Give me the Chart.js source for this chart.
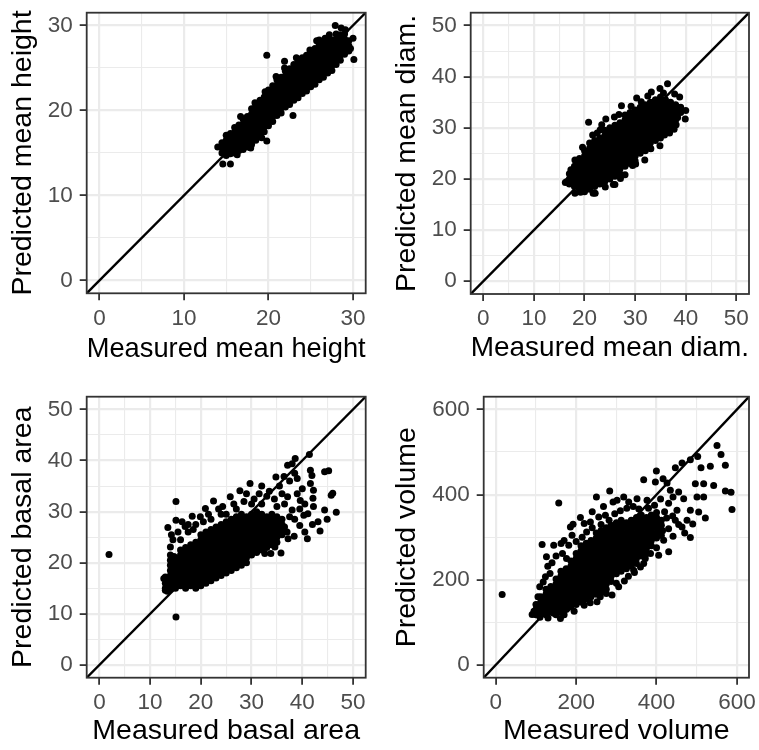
<!DOCTYPE html>
<html>
<head>
<meta charset="utf-8">
<script src="https://cdn.jsdelivr.net/npm/chart.js@4.4.1/dist/chart.umd.min.js"></script>
<style>
  body { margin: 0; background: #fff; }
  #sheet { position: relative; width: 759px; height: 750px; }
  #sheet canvas { position: absolute; }
</style>
</head>
<body>
<div id="sheet">
  <canvas id="pHeight" width="380" height="375" style="left:0;top:0"></canvas>
  <canvas id="pDiam" width="379" height="375" style="left:380px;top:0"></canvas>
  <canvas id="pBasal" width="380" height="375" style="left:0;top:375px"></canvas>
  <canvas id="pVolume" width="379" height="375" style="left:380px;top:375px"></canvas>
</div>
<script>
// ---- axis limits, ticks, titles ----
const heightLimits = [-1.5, 31.5];
const heightMajor = [0, 10, 20, 30];
const heightMinor = [5, 15, 25];
const diamLimits = [-2.5, 52.5];
const diamMajor = [0, 10, 20, 30, 40, 50];
const diamMinor = [5, 15, 25, 35, 45];
const basalLimits = [-2.5, 52.5];
const basalMajor = [0, 10, 20, 30, 40, 50];
const basalMinor = [5, 15, 25, 35, 45];
const volumeLimits = [-30, 630];
const volumeMajor = [0, 200, 400, 600];
const volumeMinor = [100, 300, 500];

const heightTitles = ['Measured mean height', 'Predicted mean height'];
const diamTitles = ['Measured mean diam.', 'Predicted mean diam.'];
const basalTitles = ['Measured basal area', 'Predicted basal area'];
const volumeTitles = ['Measured volume', 'Predicted volume'];

// ---- [measured, predicted] pairs ----
const heightPairs = [
  [14.5,15.0],[14.5,15.6],[14.5,16.2],
  [15.0,14.7],[15.0,15.3],[15.0,15.9],[15.0,16.5],[15.0,17.1],
  [15.5,14.9],[15.5,15.5],[15.5,16.1],[15.5,16.7],[15.5,17.3],
  [16.0,15.0],[16.0,15.6],[16.0,16.2],[16.0,16.8],[16.0,17.4],[16.0,18.0],
  [16.5,15.3],[16.5,15.9],[16.5,16.5],[16.5,17.1],[16.5,17.7],[16.5,18.3],
  [17.0,15.4],[17.0,16.0],[17.0,16.6],[17.0,17.2],[17.0,17.8],[17.0,18.4],[17.0,19.0],
  [17.5,15.7],[17.5,16.3],[17.5,16.9],[17.5,17.5],[17.5,18.1],[17.5,18.7],[17.5,19.3],
  [18.0,16.0],[18.0,16.6],[18.0,17.2],[18.0,17.8],[18.0,18.4],[18.0,19.0],[18.0,19.6],[18.0,20.2],
  [18.5,16.5],[18.5,17.1],[18.5,17.7],[18.5,18.3],[18.5,18.9],[18.5,19.5],[18.5,20.1],[18.5,20.6],
  [19.0,17.0],[19.0,17.6],[19.0,18.2],[19.0,18.8],[19.0,19.4],[19.0,20.0],[19.0,20.6],[19.0,21.2],
  [19.5,17.5],[19.5,18.1],[19.5,18.7],[19.5,19.3],[19.5,19.9],[19.5,20.5],[19.5,21.1],[19.5,21.6],
  [20.0,18.2],[20.0,18.8],[20.0,19.4],[20.0,20.0],[20.0,20.6],[20.0,21.2],[20.0,21.8],[20.0,22.4],
  [20.5,18.7],[20.5,19.3],[20.5,19.9],[20.5,20.5],[20.5,21.1],[20.5,21.7],[20.5,22.3],[20.5,22.9],
  [21.0,19.4],[21.0,20.0],[21.0,20.6],[21.0,21.2],[21.0,21.8],[21.0,22.4],[21.0,23.0],[21.0,23.6],
  [21.5,19.7],[21.5,20.3],[21.5,20.9],[21.5,21.5],[21.5,22.1],[21.5,22.7],[21.5,23.3],[21.5,23.9],
  [22.0,20.4],[22.0,21.0],[22.0,21.6],[22.0,22.2],[22.0,22.8],[22.0,23.4],[22.0,24.0],[22.0,24.6],
  [22.5,20.7],[22.5,21.3],[22.5,21.9],[22.5,22.5],[22.5,23.1],[22.5,23.7],[22.5,24.3],[22.5,24.9],
  [23.0,21.2],[23.0,21.8],[23.0,22.4],[23.0,23.0],[23.0,23.6],[23.0,24.2],[23.0,24.8],[23.0,25.4],
  [23.5,21.5],[23.5,22.1],[23.5,22.7],[23.5,23.3],[23.5,23.9],[23.5,24.5],[23.5,25.1],[23.5,25.7],
  [24.0,22.0],[24.0,22.6],[24.0,23.2],[24.0,23.8],[24.0,24.4],[24.0,25.0],[24.0,25.6],[24.0,26.2],
  [24.5,22.3],[24.5,22.9],[24.5,23.5],[24.5,24.1],[24.5,24.7],[24.5,25.3],[24.5,25.9],[24.5,26.5],
  [25.0,22.8],[25.0,23.4],[25.0,24.0],[25.0,24.6],[25.0,25.2],[25.0,25.8],[25.0,26.4],[25.0,27.0],
  [25.5,23.1],[25.5,23.7],[25.5,24.3],[25.5,24.9],[25.5,25.5],[25.5,26.1],[25.5,26.7],[25.5,27.3],
  [26.0,23.6],[26.0,24.2],[26.0,24.8],[26.0,25.4],[26.0,26.0],[26.0,26.6],[26.0,27.2],[26.0,27.8],
  [26.5,23.9],[26.5,24.5],[26.5,25.1],[26.5,25.7],[26.5,26.3],[26.5,26.9],[26.5,27.5],[26.5,28.1],
  [27.0,24.4],[27.0,25.0],[27.0,25.6],[27.0,26.2],[27.0,26.8],[27.0,27.4],[27.0,28.0],[27.0,28.5],
  [27.5,24.7],[27.5,25.3],[27.5,25.9],[27.5,26.5],[27.5,27.1],[27.5,27.7],[27.5,28.3],
  [28.0,25.4],[28.0,26.0],[28.0,26.6],[28.0,27.2],[28.0,27.8],[28.0,28.4],[28.0,29.0],
  [28.5,25.9],[28.5,26.5],[28.5,27.1],[28.5,27.7],[28.5,28.3],[28.5,28.9],
  [29.0,26.6],[29.0,27.2],[29.0,27.8],[29.0,28.4],[29.0,29.0],
  [29.5,27.0],[29.5,27.6],[29.5,28.2],
  [19.8,26.5],[21.9,25.8],[21.9,25.0],[23.3,26.2],[22.9,19.4],[19.8,16.4],[19.2,16.8],
  [14.6,13.7],[15.5,13.7],[14.0,15.7],[30.1,26.0],[30.0,28.5],[27.9,30.0],[29.1,29.5],
  [24.9,27.1],[25.7,28.2],[26.7,28.5],[20.9,24.0],[19.6,22.2],[16.7,19.3],[17.9,15.6],
  [16.3,14.8],[29.7,27.3],[28.6,29.7],[26.0,28.3],[18.4,20.9],[27.2,28.9],[29.1,27.5]
];

const diamPairs = [
  [17,19],[17,20],[17,21],
  [18,18.5],[18,19.5],[18,20.5],[18,21.5],[18,22.5],
  [19,18],[19,19],[19,20],[19,21],[19,22],[19,23],[19,24],
  [20,17.5],[20,18.5],[20,19.5],[20,20.5],[20,21.5],[20,22.5],[20,23.5],[20,24.5],[20,25.5],
  [21,18],[21,19],[21,20],[21,21],[21,22],[21,23],[21,24],[21,25],[21,26],[21,27],
  [22,18.5],[22,19.5],[22,20.5],[22,21.5],[22,22.5],[22,23.5],[22,24.5],[22,25.5],[22,26.5],[22,27.5],
  [23,19],[23,20],[23,21],[23,22],[23,23],[23,24],[23,25],[23,26],[23,27],[23,28],
  [24,19.5],[24,20.5],[24,21.5],[24,22.5],[24,23.5],[24,24.5],[24,25.5],[24,26.5],[24,27.5],[24,28.5],[24,29.5],
  [25,20],[25,21],[25,22],[25,23],[25,24],[25,25],[25,26],[25,27],[25,28],[25,29],[25,30],
  [26,20.5],[26,21.5],[26,22.5],[26,23.5],[26,24.5],[26,25.5],[26,26.5],[26,27.5],[26,28.5],[26,29.5],[26,30.5],
  [27,21],[27,22],[27,23],[27,24],[27,25],[27,26],[27,27],[27,28],[27,29],[27,30],[27,31],
  [28,22.5],[28,23.5],[28,24.5],[28,25.5],[28,26.5],[28,27.5],[28,28.5],[28,29.5],[28,30.5],[28,31.5],[28,32.5],
  [29,23],[29,24],[29,25],[29,26],[29,27],[29,28],[29,29],[29,30],[29,31],[29,32],[29,33],
  [30,23.5],[30,24.5],[30,25.5],[30,26.5],[30,27.5],[30,28.5],[30,29.5],[30,30.5],[30,31.5],[30,32.5],[30,33.5],
  [31,25],[31,26],[31,27],[31,28],[31,29],[31,30],[31,31],[31,32],[31,33],[31,34],
  [32,25.5],[32,26.5],[32,27.5],[32,28.5],[32,29.5],[32,30.5],[32,31.5],[32,32.5],[32,33.5],[32,34.5],
  [33,26],[33,27],[33,28],[33,29],[33,30],[33,31],[33,32],[33,33],[33,34],[33,35],
  [34,27.5],[34,28.5],[34,29.5],[34,30.5],[34,31.5],[34,32.5],[34,33.5],[34,34.5],[34,35.5],
  [35,28],[35,29],[35,30],[35,31],[35,32],[35,33],[35,34],[35,35],[35,36],
  [36,29.5],[36,30.5],[36,31.5],[36,32.5],[36,33.5],[36,34.5],[36,35.5],
  [37,30],[37,31],[37,32],[37,33],[37,34],[37,35],
  [38,31.5],[38,32.5],[38,33.5],[38,34.5],
  [39,33],[39,34],
  [36.4,38.6],[39.9,31.7],[34.9,26.5],[20.8,31.1],[24.2,31.7],[27.3,34.3],[30.3,35.8],
  [33.2,37.0],[34.9,37.7],[37.8,36.6],[38.8,36.0],[39.0,33.6],[37.7,29.7],[31.9,23.7],
  [28.0,20.8],[26.0,18.9],[22.1,17.2],[16.5,19.5],[18.1,23.7],[17.3,21.8],[18.1,17.2],
  [21.7,17.2],[25.7,18.9],[16.2,19.3],[17.5,21.4],[19.6,26.2],[21.6,28.6],[23.1,29.6],
  [25.9,32.1],[29.2,34.2],[35.6,36.8],[36.6,32.6],[38.4,32.0],[33.1,25.9],[30.1,22.9],
  [27.1,20.1],[24.1,18.4],[19.2,17.4],[38.1,30.6],[32.5,36.2],[31.2,35.1],[26.8,32.6],
  [23.4,30.6],[22.5,29.0],[24.6,21.0],[29.5,22.6],[35.8,28.6],[36.8,29.0],[40.0,33.4]
];

const basalPairs = [
  [13,15],[13,16],[13,17],
  [14,15.5],[14,16.5],[14,17.5],[14,18.5],[14,19.5],[14,20.5],[14,21.5],
  [15,15],[15,16],[15,17],[15,18],[15,19],[15,20],[15,21],
  [16,15.5],[16,16.5],[16,17.5],[16,18.5],[16,19.5],[16,20.5],[16,21.5],[16,22.5],
  [17,15],[17,16],[17,17],[17,18],[17,19],[17,20],[17,21],[17,22],[17,23],
  [18,15.5],[18,16.5],[18,17.5],[18,18.5],[18,19.5],[18,20.5],[18,21.5],[18,22.5],[18,23.5],
  [19,15],[19,16],[19,17],[19,18],[19,19],[19,20],[19,21],[19,22],[19,23],[19,24],
  [20,15.5],[20,16.5],[20,17.5],[20,18.5],[20,19.5],[20,20.5],[20,21.5],[20,22.5],[20,23.5],[20,24.5],[20,25.5],
  [21,16],[21,17],[21,18],[21,19],[21,20],[21,21],[21,22],[21,23],[21,24],[21,25],[21,26],
  [22,16.5],[22,17.5],[22,18.5],[22,19.5],[22,20.5],[22,21.5],[22,22.5],[22,23.5],[22,24.5],[22,25.5],[22,26.5],
  [23,17],[23,18],[23,19],[23,20],[23,21],[23,22],[23,23],[23,24],[23,25],[23,26],[23,27],
  [24,17.5],[24,18.5],[24,19.5],[24,20.5],[24,21.5],[24,22.5],[24,23.5],[24,24.5],[24,25.5],[24,26.5],[24,27.5],
  [25,18],[25,19],[25,20],[25,21],[25,22],[25,23],[25,24],[25,25],[25,26],[25,27],[25,28],
  [26,18.5],[26,19.5],[26,20.5],[26,21.5],[26,22.5],[26,23.5],[26,24.5],[26,25.5],[26,26.5],[26,27.5],[26,28.5],
  [27,19],[27,20],[27,21],[27,22],[27,23],[27,24],[27,25],[27,26],[27,27],[27,28],[27,29],
  [28,19.5],[28,20.5],[28,21.5],[28,22.5],[28,23.5],[28,24.5],[28,25.5],[28,26.5],[28,27.5],[28,28.5],[28,29.5],
  [29,20],[29,21],[29,22],[29,23],[29,24],[29,25],[29,26],[29,27],[29,28],[29,29],
  [30,21.5],[30,22.5],[30,23.5],[30,24.5],[30,25.5],[30,26.5],[30,27.5],[30,28.5],[30,29.5],
  [31,22],[31,23],[31,24],[31,25],[31,26],[31,27],[31,28],[31,29],[31,30],
  [32,22.5],[32,23.5],[32,24.5],[32,25.5],[32,26.5],[32,27.5],[32,28.5],[32,29.5],
  [33,23],[33,24],[33,25],[33,26],[33,27],[33,28],[33,29],
  [34,23.5],[34,24.5],[34,25.5],[34,26.5],[34,27.5],[34,28.5],[34,29.5],
  [35,24],[35,25],[35,26],[35,27],[35,28],[35,29],
  [36,25.5],[36,26.5],[36,27.5],[36,28.5],
  [1.9,21.6],[15.1,32.0],[15.1,9.4],[13.0,17.2],[13.0,14.6],[12.7,16.9],[13.4,14.4],[14.0,14.8],
  [13.5,26.9],[15.1,28.3],[16.3,28.0],[16.9,27.1],[14.5,24.5],[14.0,23.1],[14.7,21.2],[14.2,25.5],
  [15.5,26.0],[17.5,27.5],[18.3,29.1],[19.9,29.0],[20.9,30.6],[22.5,32.1],[24.3,31.0],[25.8,32.9],
  [27.7,34.1],[29.0,33.5],[29.7,35.5],[32.0,35.0],[21.5,29.5],[23.5,30.5],[26.5,31.5],[28.5,32.0],
  [30.5,32.5],[31.5,33.5],[33.0,33.0],[19.0,27.5],[20.5,28.0],[22.0,28.5],[24.0,29.5],
  [34.8,36.8],[36.4,36.9],[37.1,39.1],[38.0,39.4],[38.6,40.4],[41.4,41.2],[41.6,38.1],[41.9,37.1],
  [41.6,35.5],[42.2,34.2],[42.1,32.6],[42.2,31.0],[41.1,29.6],[39.6,32.2],[39.0,33.5],[37.1,32.9],
  [38.0,30.3],[40.3,29.3],[43.1,28.0],[44.4,30.3],[44.9,28.5],[46.0,33.6],[45.7,33.2],[46.7,29.9],
  [44.4,37.8],[45.2,38.0],[41.0,24.7],[40.5,26.0],[38.4,25.2],[39.5,27.3],[35.8,21.9],[33.8,21.8],
  [32.6,21.8],[34.6,23.1],[37.2,24.7],[36.5,31.5],[37.5,29.0],[38.5,28.5],[39.5,30.5],[40.5,31.5],
  [36.0,33.5],[35.5,35.0],[37.5,36.0],[38.5,37.5],[39.0,36.5],[36.5,27.0],[37.0,26.0],[42.0,27.5],
  [43.5,26.2],[40.0,34.5],[33.5,34.0],[34.5,32.5],[35.0,31.0],[32.0,31.5],[30.0,31.5],[27.0,30.5],
  [25.0,29.5],[17.5,26.0],[16.0,24.5],[18.5,26.5]
];

const volumePairs = [
  [100,118],[100,130],[100,142],
  [112,124],[112,136],[112,148],[112,160],
  [125,118],[125,130],[125,142],[125,154],[125,166],[125,178],
  [137,124],[137,136],[137,148],[137,160],[137,172],[137,184],
  [150,118],[150,130],[150,142],[150,154],[150,166],[150,178],[150,190],[150,202],
  [162,124],[162,136],[162,148],[162,160],[162,172],[162,184],[162,196],[162,208],[162,220],
  [175,130],[175,142],[175,154],[175,166],[175,178],[175,190],[175,202],[175,214],[175,226],
  [187,136],[187,148],[187,160],[187,172],[187,184],[187,196],[187,208],[187,220],[187,232],[187,244],
  [200,142],[200,154],[200,166],[200,178],[200,190],[200,202],[200,214],[200,226],[200,238],[200,250],[200,262],
  [212,148],[212,160],[212,172],[212,184],[212,196],[212,208],[212,220],[212,232],[212,244],[212,256],[212,268],[212,280],
  [225,154],[225,166],[225,178],[225,190],[225,202],[225,214],[225,226],[225,238],[225,250],[225,262],[225,274],[225,286],
  [237,160],[237,172],[237,184],[237,196],[237,208],[237,220],[237,232],[237,244],[237,256],[237,268],[237,280],[237,292],
  [250,166],[250,178],[250,190],[250,202],[250,214],[250,226],[250,238],[250,250],[250,262],[250,274],[250,286],[250,298],[250,310],
  [262,172],[262,184],[262,196],[262,208],[262,220],[262,232],[262,244],[262,256],[262,268],[262,280],[262,292],[262,304],[262,316],
  [275,178],[275,190],[275,202],[275,214],[275,226],[275,238],[275,250],[275,262],[275,274],[275,286],[275,298],[275,310],[275,322],
  [287,196],[287,208],[287,220],[287,232],[287,244],[287,256],[287,268],[287,280],[287,292],[287,304],[287,316],[287,328],
  [300,214],[300,226],[300,238],[300,250],[300,262],[300,274],[300,286],[300,298],[300,310],[300,322],[300,334],
  [312,220],[312,232],[312,244],[312,256],[312,268],[312,280],[312,292],[312,304],[312,316],[312,328],[312,340],
  [325,226],[325,238],[325,250],[325,262],[325,274],[325,286],[325,298],[325,310],[325,322],[325,334],
  [337,232],[337,244],[337,256],[337,268],[337,280],[337,292],[337,304],[337,316],[337,328],[337,340],
  [350,238],[350,250],[350,262],[350,274],[350,286],[350,298],[350,310],[350,322],[350,334],[350,346],
  [362,256],[362,268],[362,280],[362,292],[362,304],[362,316],[362,328],[362,340],[362,352],
  [375,262],[375,274],[375,286],[375,298],[375,310],[375,322],[375,334],[375,346],
  [387,280],[387,292],[387,304],[387,316],[387,328],[387,340],[387,352],
  [400,298],[400,310],[400,322],[400,334],[400,346],[400,358],
  [412,304],[412,316],[412,328],[412,340],
  [15.9,165.7],[156.7,380.4],[115.3,282.8],[144.2,281.2],[162.5,285],[126.1,253.8],[129.4,232],
  [123.6,207],[109.4,183.5],[185.7,324.2],[192.3,330.4],[210.6,346.1],[189.8,304.6],[181.6,281.2],
  [235.4,335.9],[250.4,394.4],[256.2,347.6],[272.8,351.5],[283.5,408.5],[291.8,382.8],[301.7,386.7],
  [318.3,394.4],[330.7,382.8],[351.4,390.6],[368,435.2],[376.3,386.7],[399.6,455.4],[397.1,429.6],
  [416.2,437.4],[426.1,427.3],[446.8,463.3],[434.3,410.1],[441,394.4],[455,406.1],[463.5,474.2],
  [467.5,390.6],[484.1,482],[502.3,489.8],[510.6,463.3],[533.8,466.4],[517.2,425.8],[496.5,425.8],
  [500.6,394.4],[517.2,394.4],[542.1,421.7],[521.4,345.2],[484.1,363.2],[504.8,359.3],[475.8,339.8],
  [484.1,299.2],[463.4,324.2],[441,302.3],[430.2,265.6],[405.3,257.8],[417.7,292.9],[446.7,339.8],
  [450.8,363.2],[550.4,515.6],[560.4,494.5],[571.2,468.7],[571.2,408.5],[585.3,405.4],[587.7,364.9],
  [343.1,222.6],[368,238.3],[305.8,183.5],[289.3,164],[90.5,118.6],[102.9,140.5],[144.3,121.1],
  [160.9,109.3],[177.4,132.7],[210.6,148.3],[252,148.3],
  [420,360],[430,380],[410,390],[395,375],[380,368],[425,345],[440,350],[455,330],[470,310],
  [430,320],[415,315],[400,275],[385,262],[372,250],[360,230],[345,217],[330,208],[320,197],
  [300,192],[275,168],[260,160],[235,146],[220,140],[195,126],[170,118],[130,110],[110,112],
  [95,126],[105,160],[118,195],[135,215],[140,240],[150,256],[166,262],[176,250],[200,290],
  [215,300],[226,312],[240,322],[262,330],[282,340],[296,355],[310,362],[326,368],[342,372],
  [356,366],[268,372],[240,360],[220,332],[170,292],[490,331]
];

// ---- drawing ----
Chart.defaults.font.family = '"Liberation Sans", Arial, Helvetica, sans-serif';

const INK = '#333333';
const GRID = '#EBEBEB';

// ggplot-style box round the panel, drawn over the points
const panelFrame = {
  id: 'panelFrame',
  afterDatasetsDraw(chart) {
    const { ctx, chartArea: a } = chart;
    ctx.save();
    ctx.strokeStyle = INK;
    ctx.lineWidth = 1.8;
    ctx.strokeRect(a.left, a.top, a.right - a.left, a.bottom - a.top);
    ctx.restore();
  }
};

function axisOptions(limits, major, minor, title, isX, box) {
  const all = major.concat(minor).sort((a, b) => a - b);
  const isMajor = v => major.includes(v);
  return {
    type: 'linear',
    min: limits[0],
    max: limits[1],
    afterBuildTicks: s => { s.ticks = all.map(v => ({ value: v })); },
    afterFit: s => {
      if (isX) s.height = box.h - box.bottom;
      else s.width = box.left;
      s.paddingLeft = s.paddingRight = s.paddingTop = s.paddingBottom = 0;
    },
    border: { display: false },
    grid: {
      color: GRID,
      lineWidth: c => (c.tick && isMajor(c.tick.value)) ? 2.2 : 1.1,
      tickColor: c => (c.tick && isMajor(c.tick.value)) ? INK : 'rgba(0,0,0,0)',
      tickWidth: 1.8,
      tickLength: 7
    },
    ticks: {
      color: '#4D4D4D',
      font: { size: 22.5, lineHeight: 1 },
      padding: 7,
      maxRotation: 0,
      autoSkip: false,
      callback: v => isMajor(v) ? String(v) : ''
    },
    title: {
      display: true,
      text: title,
      color: '#000',
      font: { size: 28.5, lineHeight: 1 },
      padding: isX ? { top: 0, bottom: box.xTitlePad } : { top: box.yTitlePad, bottom: 0 }
    }
  };
}

function drawPanel(id, pairs, limits, major, minor, titles, box) {
  const ctx = document.getElementById(id).getContext('2d');
  return new Chart(ctx, {
    type: 'scatter',
    data: {
      datasets: [
        {
          data: pairs.map(([x, y]) => ({ x, y })),
          pointRadius: 3.5,
          pointHoverRadius: 3.5,
          pointBackgroundColor: '#000',
          pointBorderWidth: 0,
          order: 1
        },
        {
          type: 'line',
          data: [{ x: limits[0], y: limits[0] }, { x: limits[1], y: limits[1] }],
          borderColor: '#000',
          borderWidth: 2.4,
          pointRadius: 0,
          fill: false,
          clip: 0,
          order: 0
        }
      ]
    },
    options: {
      responsive: false,
      animation: false,
      events: [],
      layout: {
        autoPadding: false,
        padding: { left: 0, top: box.top, right: box.w - box.right, bottom: 0 }
      },
      plugins: { legend: { display: false }, tooltip: { enabled: false } },
      scales: {
        x: axisOptions(limits, major, minor, titles[0], true, box),
        y: axisOptions(limits, major, minor, titles[1], false, box)
      }
    },
    plugins: [panelFrame]
  });
}

drawPanel('pHeight', heightPairs, heightLimits, heightMajor, heightMinor, heightTitles,
  { w: 380, h: 375, left: 86.7, right: 365.7, top: 12.7, bottom: 293.3, yTitlePad: 9.2, xTitlePad: 11.7 });
drawPanel('pDiam', diamPairs, diamLimits, diamMajor, diamMinor, diamTitles,
  { w: 379, h: 375, left: 90.7, right: 369, top: 12.7, bottom: 294, yTitlePad: 12.5, xTitlePad: 12.4 });
drawPanel('pBasal', basalPairs, basalLimits, basalMajor, basalMinor, basalTitles,
  { w: 380, h: 375, left: 86.7, right: 365.7, top: 21.7, bottom: 302.7, yTitlePad: 9.2, xTitlePad: 4.7 });
drawPanel('pVolume', volumePairs, volumeLimits, volumeMajor, volumeMinor, volumeTitles,
  { w: 379, h: 375, left: 103.7, right: 369, top: 21.7, bottom: 302.7, yTitlePad: 13.2, xTitlePad: 4.7 });
</script>
</body>
</html>
